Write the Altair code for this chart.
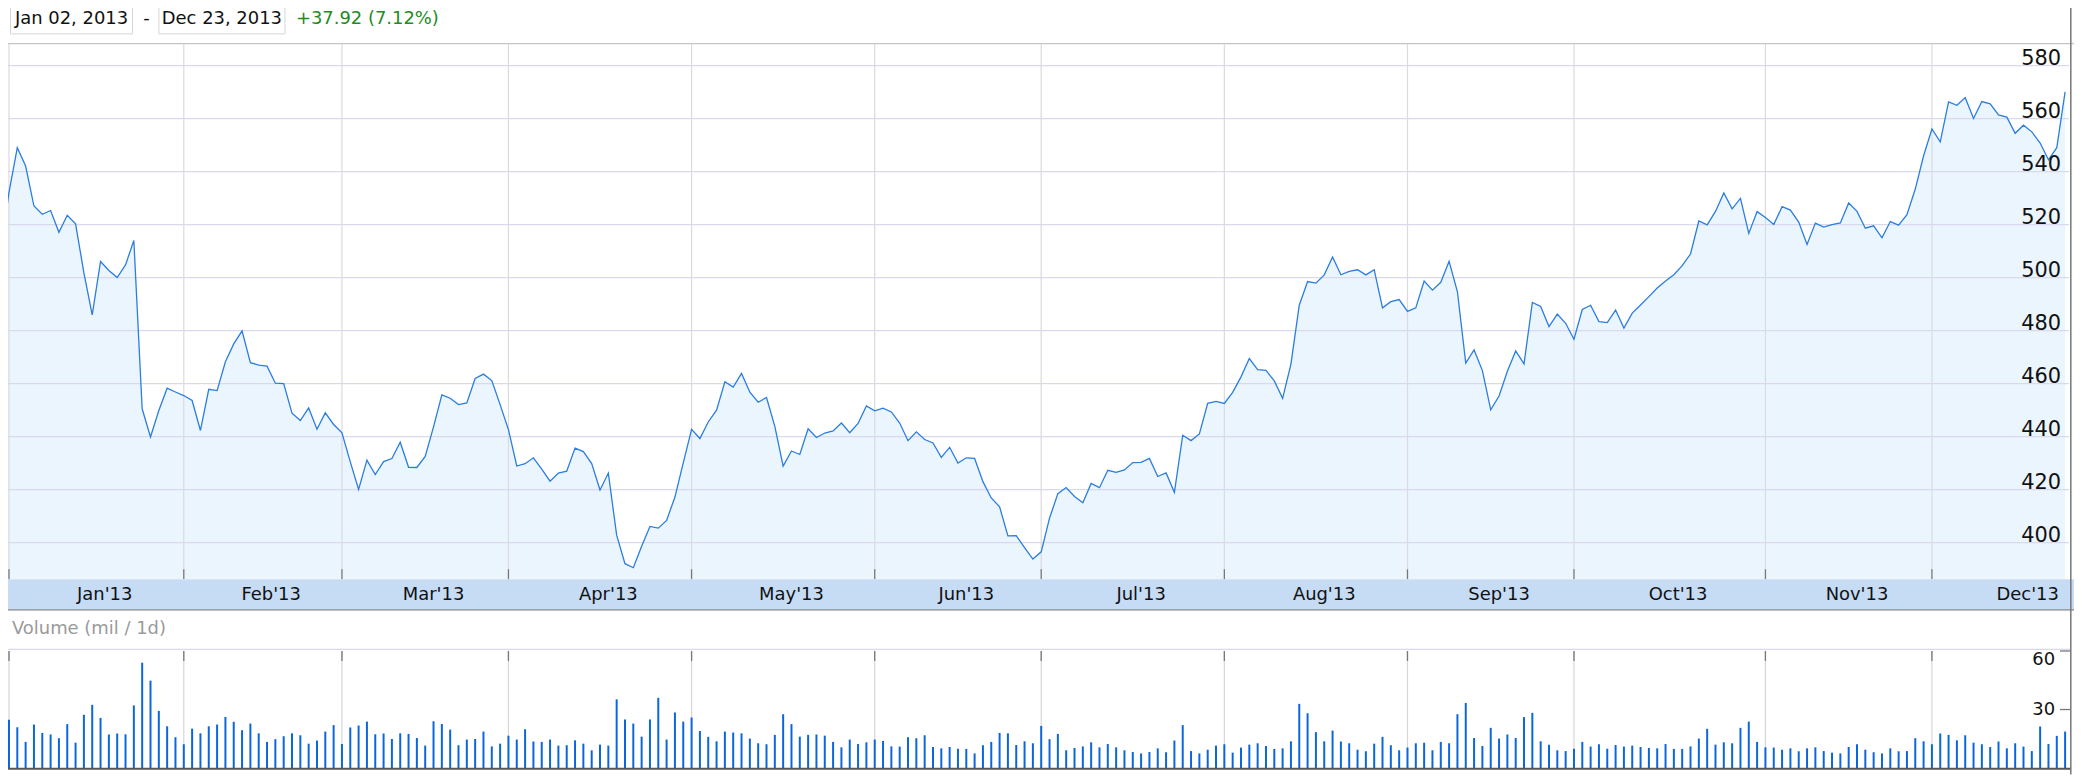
import altair as alt
import pandas as pd

# ---------------- data ----------------
months = ["Jan'13", "Feb'13", "Mar'13", "Apr'13", "May'13", "Jun'13",
          "Jul'13", "Aug'13", "Sep'13", "Oct'13", "Nov'13", "Dec'13"]
# trading days per calendar month (full months)
month_trading_days = [21, 19, 20, 22, 22, 20, 22, 22, 20, 23, 20, 21]

price_ticks = [400, 420, 440, 460, 480, 500, 520, 540, 560, 580]
volume_ticks = [30, 60]

start_label = "Jan 02, 2013"
end_label = "Dec 23, 2013"
change_label = "+37.92 (7.12%)"
volume_title = "Volume (mil / 1d)"

# daily close, first two values: Dec 28 2012, Dec 31 2012
close = [
    509.59, 532.17,
    549.03, 542.10, 527.00, 523.90, 525.31, 517.10, 523.51, 520.30, 501.75, 485.92,
    506.09, 502.68, 500.00, 504.77, 514.01, 450.50, 439.88, 449.83, 458.27, 456.83, 455.49,
    453.62, 442.32, 457.84, 457.35, 468.22, 474.98, 479.93, 467.90, 467.01, 466.59,
    460.16, 459.99, 448.85, 446.06, 450.81, 442.80, 448.97, 444.57, 441.40,
    430.47, 420.05, 431.14, 425.66, 430.58, 431.72, 437.87, 428.43, 428.35, 432.50,
    443.66, 455.72, 454.49, 452.08, 452.73, 461.91, 463.58, 461.14, 452.08, 442.66,
    428.91, 429.79, 431.99, 427.72, 423.20, 426.21, 426.98, 435.69, 434.33, 429.80, 419.85,
    426.24, 402.80, 392.05, 390.53, 398.67, 406.13, 405.46, 408.38, 417.20, 430.12, 442.78,
    439.29, 445.52, 449.98, 460.71, 458.66, 463.84, 456.77, 452.97, 454.74, 443.86, 428.85,
    434.58, 433.26, 442.93, 439.66, 441.35, 442.14, 445.15, 441.44, 444.95, 451.58, 449.73,
    450.72, 449.31, 445.11, 438.46, 441.81, 438.89, 437.60, 432.19, 435.96, 430.05,
    432.00, 431.77, 423.00, 416.84, 413.50, 402.54, 402.63, 398.07, 393.78, 396.53,
    409.22, 418.49, 420.80, 417.42, 415.05, 422.35, 420.73, 427.29, 426.51, 427.44, 430.20,
    430.31, 431.76, 424.95, 426.31, 418.99, 440.51, 438.50, 440.99, 452.53, 453.32, 452.53,
    456.68, 462.54, 469.45, 465.25, 464.98, 461.01, 454.45, 467.36, 489.57, 498.50, 497.91,
    501.02, 507.74, 501.07, 502.36, 502.96, 501.02, 502.97, 488.59, 490.90, 491.70, 487.22,
    488.58, 498.69, 495.27, 498.22, 506.17, 494.64, 467.71, 472.69, 464.90, 450.12,
    455.32, 464.68, 472.30, 467.41, 490.64, 489.10, 481.53, 486.22, 482.75, 476.75,
    487.96, 489.56, 483.41, 483.03, 487.75, 480.94, 486.59, 489.64, 492.81, 496.04, 498.68,
    501.11, 504.50, 508.89, 521.36, 519.87, 524.96, 531.91, 525.96, 529.88, 516.68, 524.90, 522.70,
    520.03, 526.75, 525.45, 520.92, 512.49, 520.56, 519.05, 520.01, 520.63, 528.16,
    524.99, 518.63, 519.55, 515.00, 521.14, 519.80, 523.74, 533.40, 545.96, 556.07,
    551.23, 566.32, 565.00, 567.90, 560.02, 566.43, 565.55, 561.36, 560.54, 554.43,
    557.50, 554.99, 550.77, 544.46, 549.02, 570.09,
]

# daily volume in millions, from Dec 31 2012
volume = [
    24.7, 20.9, 13.4, 22.3, 18.0, 17.2, 15.3, 22.5, 13.0, 27.3,
    32.4, 25.7, 17.2, 17.7, 17.3, 32.1, 54.0, 44.8, 29.3, 21.4,
    15.8, 12.2, 20.2, 17.8, 21.4, 22.3, 26.2, 23.7, 19.4, 22.8,
    17.8, 13.4, 14.8, 16.3, 17.8, 16.8, 12.5, 14.1, 18.7, 22.0,
    12.3, 20.8, 21.8, 23.8, 17.3, 17.7, 14.9, 17.8, 17.5, 15.4,
    11.5, 24.0, 22.6, 19.7, 11.7, 14.6, 14.9, 18.7, 11.1, 12.5,
    16.6, 14.6, 19.9, 13.6, 13.4, 14.6, 11.5, 11.7, 14.2, 12.5,
    9.1, 12.0, 11.5, 35.2, 24.9, 22.8, 16.1, 24.9, 36.0, 14.6,
    28.5, 23.8, 25.9, 19.0, 16.0, 13.7, 18.7, 18.2, 17.8, 15.1,
    12.7, 12.2, 17.0, 27.6, 22.5, 16.1, 17.0, 17.2, 16.6, 13.4,
    10.6, 14.6, 12.3, 13.2, 14.6, 13.9, 11.1, 11.0, 15.8, 15.3,
    16.8, 10.8, 10.1, 10.8, 9.9, 9.8, 7.5, 11.7, 13.4, 18.0,
    17.8, 11.8, 13.7, 12.7, 21.6, 14.8, 17.5, 9.1, 10.3, 11.1,
    13.2, 10.6, 12.3, 10.6, 9.1, 8.2, 7.5, 8.2, 10.1, 8.1,
    14.1, 22.0, 8.7, 7.5, 9.4, 11.5, 12.2, 7.9, 10.5, 12.0,
    12.7, 11.3, 9.8, 10.1, 13.7, 32.9, 28.1, 18.4, 13.7, 19.2,
    13.6, 12.7, 9.4, 8.6, 12.5, 16.0, 11.7, 9.1, 10.5, 12.7,
    13.0, 9.1, 13.4, 12.7, 27.6, 33.4, 15.4, 11.3, 20.6, 15.1,
    17.2, 15.4, 26.1, 28.3, 13.7, 12.0, 9.1, 8.7, 9.9, 13.4,
    11.0, 12.2, 9.9, 11.8, 11.0, 11.5, 10.8, 10.3, 10.1, 12.3,
    9.8, 9.8, 11.1, 15.1, 20.1, 12.0, 13.2, 12.7, 20.6, 23.8,
    13.4, 10.6, 10.5, 9.4, 10.1, 8.6, 10.1, 10.6, 8.7, 7.9,
    7.5, 10.8, 12.2, 9.4, 8.1, 7.5, 10.1, 8.6, 8.7, 15.3,
    13.7, 12.2, 17.7, 17.0, 14.2, 16.8, 13.0, 12.2, 10.8, 13.6,
    10.1, 12.7, 11.0, 8.7, 21.3, 12.3, 16.5, 18.7,
]

# ---------------- tables ----------------
price_df = pd.DataFrame({"i": list(range(-1, len(close) - 1)), "close": close})
vol_df = pd.DataFrame({"i": list(range(len(volume))), "vol": volume})

bounds = [0]
for d in month_trading_days[:-1]:
    bounds.append(bounds[-1] + d)
month_df = pd.DataFrame({
    "g": bounds,
    "mid": [b + d / 2 + 1 for b, d in zip(bounds, month_trading_days)],
    "label": months,
})
ptick_df = pd.DataFrame({"v": price_ticks})
vtick_df = pd.DataFrame({"v": volume_ticks})
vtick_top_df = vtick_df[vtick_df.v == max(volume_ticks)]
vtick_rest_df = vtick_df[vtick_df.v != max(volume_ticks)]
one = pd.DataFrame({"k": [0]})

# ---------------- layout ----------------
W, H = 2082, 776
STEP = 8.397          # px per trading day
X0 = 4.0              # px of first trading point
P_MIN, P_MAX = 386.17, 588.27
XS = alt.Scale(domain=[-X0 / STEP, (W - X0) / STEP], nice=False, zero=False)
PY = alt.Scale(domain=[P_MIN, P_MAX], range=[580, 42.3], nice=False, zero=False)
VY = alt.Scale(domain=[0, 60], range=[769.5, 652], nice=False)

FONT = "DejaVu Sans"
layers = []

# header
for (xa, xb) in [(10.5, 133), (159.5, 286)]:
    layers.append(alt.Chart(one).mark_rect(fill="white", stroke="#d6d6d6", strokeWidth=1).encode(
        x=alt.value(xa), x2=alt.value(xb), y=alt.value(2.5), y2=alt.value(32.5)))
layers.append(alt.Chart(one).mark_text(font=FONT, fontSize=18, color="#111111", baseline="middle").encode(
    x=alt.value(71.8), y=alt.value(18), text=alt.value(start_label)))
layers.append(alt.Chart(one).mark_text(font=FONT, fontSize=18, color="#111111", baseline="middle").encode(
    x=alt.value(147), y=alt.value(18), text=alt.value("-")))
layers.append(alt.Chart(one).mark_text(font=FONT, fontSize=18, color="#111111", baseline="middle").encode(
    x=alt.value(222.7), y=alt.value(18), text=alt.value(end_label)))
layers.append(alt.Chart(one).mark_text(font=FONT, fontSize=18, color="#1e8c1e", baseline="middle", align="left").encode(
    x=alt.value(297), y=alt.value(18), text=alt.value(change_label)))

# top border
layers.append(alt.Chart(one).mark_rule(color="#c4c4c4", strokeWidth=1.2).encode(
    x=alt.value(0), x2=alt.value(W), y=alt.value(42.3)))

# price area (down to the bottom of the price pane)
layers.append(alt.Chart(price_df).mark_area(color="#ebf5fe", clip=True).encode(
    x=alt.X("i:Q", scale=XS, axis=None),
    y=alt.Y("close:Q", scale=PY, axis=None),
    y2=alt.datum(P_MIN)))

# gridlines
layers.append(alt.Chart(ptick_df).mark_rule(color="#d9d9ee", strokeWidth=1.2).encode(
    y=alt.Y("v:Q", scale=PY, axis=None), x=alt.value(0), x2=alt.value(2077)))
layers.append(alt.Chart(month_df).mark_rule(color="#dadadf", strokeWidth=1.2).encode(
    x=alt.X("g:Q", scale=XS, axis=None), y=alt.value(42.3), y2=alt.value(572)))

# price line
layers.append(alt.Chart(price_df).mark_line(color="#2b7ddf", strokeWidth=1.3, clip=True).encode(
    x=alt.X("i:Q", scale=XS, axis=None),
    y=alt.Y("close:Q", scale=PY, axis=None)))

# month ticks at bottom of price pane
layers.append(alt.Chart(month_df).mark_rule(color="#777777", strokeWidth=1.3).encode(
    x=alt.X("g:Q", scale=XS, axis=None), y=alt.value(570), y2=alt.value(580)))

# price labels
layers.append(alt.Chart(ptick_df).mark_text(font=FONT, fontSize=21, color="#111111",
                                            align="right", baseline="alphabetic", dy=-1).encode(
    y=alt.Y("v:Q", scale=PY, axis=None), x=alt.value(2069), text=alt.Text("v:Q", format="d")))

# month band
layers.append(alt.Chart(one).mark_rect(color="#c6dcf5").encode(
    x=alt.value(0), x2=alt.value(W), y=alt.value(580), y2=alt.value(610.5)))
layers.append(alt.Chart(one).mark_rule(color="#8c8c8c", strokeWidth=1.6).encode(
    x=alt.value(0), x2=alt.value(W), y=alt.value(610.8)))
layers.append(alt.Chart(month_df).mark_text(font=FONT, fontSize=18, color="#111111", baseline="middle").encode(
    x=alt.X("mid:Q", scale=XS, axis=None), y=alt.value(596), text="label:N"))

# volume pane
layers.append(alt.Chart(one).mark_rect(color="white").encode(
    x=alt.value(0), x2=alt.value(W), y=alt.value(611.6), y2=alt.value(H)))
layers.append(alt.Chart(one).mark_text(font=FONT, fontSize=18, color="#9a9a9a", baseline="middle", align="left").encode(
    x=alt.value(12), y=alt.value(630), text=alt.value(volume_title)))
layers.append(alt.Chart(one).mark_rule(color="#d8d8ee", strokeWidth=1.2).encode(
    x=alt.value(6), x2=alt.value(2078), y=alt.value(650.3)))
layers.append(alt.Chart(month_df).mark_rule(color="#d6d6d6", strokeWidth=1.2).encode(
    x=alt.X("g:Q", scale=XS, axis=None), y=alt.value(652), y2=alt.value(770)))
layers.append(alt.Chart(month_df).mark_rule(color="#777777", strokeWidth=1.3).encode(
    x=alt.X("g:Q", scale=XS, axis=None), y=alt.value(652), y2=alt.value(662)))
layers.append(alt.Chart(vol_df).mark_bar(color="#0a66dd", size=2, clip=True).encode(
    x=alt.X("i:Q", scale=XS, axis=None),
    y=alt.Y("vol:Q", scale=VY, axis=None)))

# volume axis
layers.append(alt.Chart(vtick_df).mark_rule(color="#777777", strokeWidth=1.3).encode(
    y=alt.Y("v:Q", scale=VY, axis=None), x=alt.value(2068), x2=alt.value(2078)))
layers.append(alt.Chart(vtick_top_df).mark_text(font=FONT, fontSize=18, color="#111111",
                                                align="right", baseline="top").encode(
    y=alt.Y("v:Q", scale=VY, axis=None), x=alt.value(2063), text=alt.Text("v:Q", format="d")))
layers.append(alt.Chart(vtick_rest_df).mark_text(font=FONT, fontSize=18, color="#111111",
                                                 align="right", baseline="middle").encode(
    y=alt.Y("v:Q", scale=VY, axis=None), x=alt.value(2063), text=alt.Text("v:Q", format="d")))

# bottom axis and borders
layers.append(alt.Chart(one).mark_rule(color="#555555", strokeWidth=2).encode(
    x=alt.value(0), x2=alt.value(2079), y=alt.value(770.3)))
layers.append(alt.Chart(one).mark_rule(color="#777777", strokeWidth=1.5).encode(
    x=alt.value(2078.8), y=alt.value(0), y2=alt.value(H)))

chart = alt.layer(*layers).resolve_scale(y="independent").properties(
    width=W, height=H,
    padding={"left": -8, "top": -8, "right": 0, "bottom": 0},
    autosize=alt.AutoSizeParams(type="none"),
    background="white",
).configure_view(stroke=None)

chart.save("out.html", embed_options={"renderer": "svg", "actions": False})
